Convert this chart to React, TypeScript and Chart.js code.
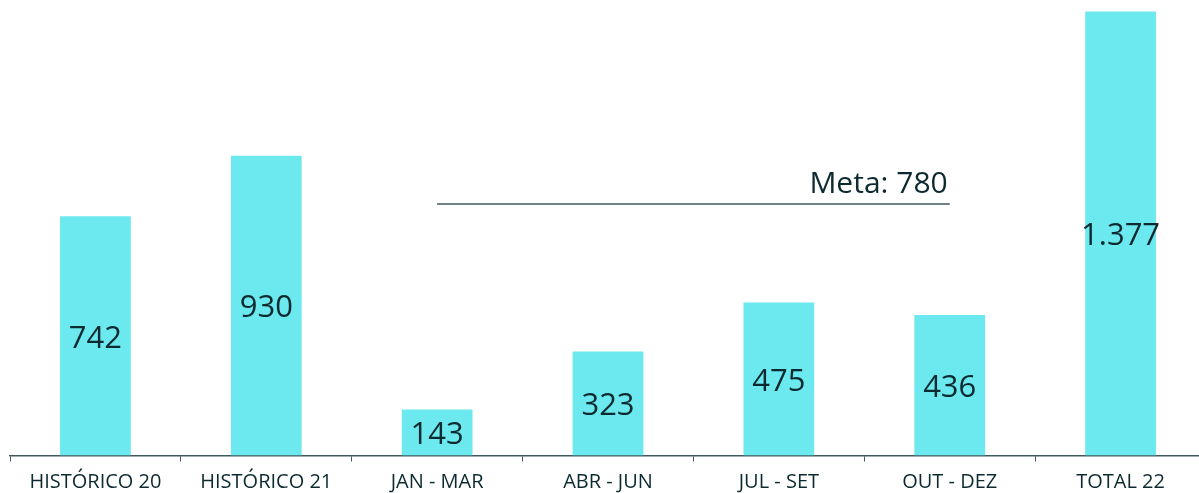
import React, { useEffect, useRef } from "react";
import { Chart, registerables } from "chart.js";

Chart.register(...registerables);

const categories = ["HISTÓRICO 20", "HISTÓRICO 21", "JAN - MAR", "ABR - JUN", "JUL - SET", "OUT - DEZ", "TOTAL 22"];
const values = [742, 930, 143, 323, 475, 436, 1377];
const metaValue = 780;
const metaLine = [null, null, metaValue, metaValue, metaValue, metaValue, null];
const metaLabel = "Meta: 780";

const FONT = "'Open Sans', 'Noto Sans', sans-serif";
const TEXT = "#0c2a30";

const labelsPlugin = {
  id: "valueLabels",
  afterDatasetsDraw(chart: any) {
    const ctx = chart.ctx;
    const meta = chart.getDatasetMeta(0);
    ctx.save();
    ctx.font = `31px ${FONT}`;
    ctx.fillStyle = TEXT;
    ctx.textAlign = "center";
    ctx.textBaseline = "middle";
    meta.data.forEach((el: any, i: number) => {
      const v = values[i];
      const txt = v.toLocaleString("pt-BR");
      ctx.fillText(txt, el.x, (el.y + el.base) / 2 + 3);
    });
    // meta label
    ctx.font = `30px ${FONT}`;
    const lm = chart.getDatasetMeta(1);
    const pts = lm.data.filter((p: any, i: number) => metaLine[i] != null);
    const last = pts[pts.length - 1];
    ctx.textAlign = "right";
    ctx.textBaseline = "alphabetic";
    ctx.fillText(metaLabel, last.x - 2, last.y - 11);
    ctx.restore();
  },
};

export default function App() {
  const ref = useRef<HTMLCanvasElement>(null);
  useEffect(() => {
    document.body.style.margin = "0";
    document.body.style.overflow = "hidden";
    const chart = new Chart(ref.current!, {
      type: "bar",
      data: {
        labels: categories,
        datasets: [
          {
            type: "bar",
            data: values,
            backgroundColor: "#6be9ee",
            barPercentage: 0.414,
            categoryPercentage: 1,
            order: 2,
          },
          {
            type: "line",
            data: metaLine as any,
            borderColor: "#3f5a5e",
            borderWidth: 1.5,
            pointRadius: 0,
            spanGaps: false,
            order: 1,
          } as any,
        ],
      },
      options: {
        responsive: false,
        animation: false,
        layout: { padding: { left: 10, right: 0, top: 0, bottom: 0 } },
        plugins: { legend: { display: false }, tooltip: { enabled: false } },
        scales: {
          x: {
            offset: true,
            grid: {
              drawOnChartArea: false,
              drawTicks: true,
              tickLength: 6,
              color: "#3f5a5e",
              offset: true,
            },
            border: { display: true, color: "#3f5a5e", width: 1.5 },
            ticks: {
              color: TEXT,
              font: { family: FONT, size: 20 },
              padding: 9,
              maxRotation: 0,
              autoSkip: false,
            },
            afterFit: (s: any) => {
              s.height = 37.5;
            },
          },
          y: { display: false, min: 0, max: 1413 },
        },
      },
      plugins: [labelsPlugin],
    });
    return () => chart.destroy();
  }, []);
  return (
    <div style={{ position: "fixed", left: 0, top: 0, width: 1199, height: 493, overflow: "hidden", background: "#fff" }}>
      <canvas ref={ref} width={1206} height={493} style={{ display: "block" }} />
    </div>
  );
}
